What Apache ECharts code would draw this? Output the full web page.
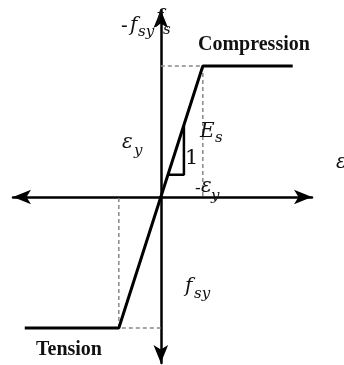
<!DOCTYPE html>
<html>
<head>
<meta charset="utf-8">
<script src="https://cdn.jsdelivr.net/npm/echarts@6/dist/echarts.min.js"></script>
<style>
  html, body { margin: 0; padding: 0; background: #fff; }
  #chart { width: 344px; height: 365px; }
</style>
</head>
<body>
<div id="chart"></div>
<script>
// strain in units of eps_y, stress in units of f_sy
const strain = [-3.24, -1, 1, 3.14];
const stress = [-1, -1, 1, 1];
const guideTopX = [0, 1, 1];
const guideTopY = [1, 1, 0];
const guideBotX = [0, -1, -1];
const guideBotY = [-1, -1, 0];
const triX = [0.17, 0.55, 0.55];
const triY = [0.17, 0.17, 0.55];

const pairs = (xs, ys) => xs.map((x, i) => [x, ys[i]]);

const chart = echarts.init(document.getElementById("chart"));

const mathFont = 'italic 20px "DejaVu Serif"';
const subFont = 'italic 15px "DejaVu Serif"';
const txt = (text, x, y, font) => ({
  type: "text",
  style: {
    text: text,
    x: x,
    y: y,
    font: font,
    fill: "#111",
    textAlign: "left",
    textVerticalAlign: "middle",
    align: "left",
    verticalAlign: "middle",
  },
  z: 100,
});

chart.setOption({
  animation: false,
  grid: { left: 13, right: 32, top: 10, bottom: 2 },
  xAxis: {
    type: "value",
    min: -3.52,
    max: 3.6,
    axisLine: {
      onZero: true,
      symbol: ["arrow", "arrow"],
      symbolSize: [11, 18],
      lineStyle: { color: "#000", width: 2.5 },
    },
    axisTick: { show: false },
    axisLabel: { show: false },
    splitLine: { show: false },
  },
  yAxis: {
    type: "value",
    min: -1.267,
    max: 1.427,
    axisLine: {
      onZero: true,
      symbol: ["arrow", "arrow"],
      symbolSize: [11, 18],
      lineStyle: { color: "#000", width: 2.5 },
    },
    axisTick: { show: false },
    axisLabel: { show: false },
    splitLine: { show: false },
  },
  series: [
    {
      type: "line",
      data: pairs(guideTopX, guideTopY),
      symbol: "none",
      lineStyle: { color: "#888", width: 1.5, type: [4, 3] },
    },
    {
      type: "line",
      data: pairs(guideBotX, guideBotY),
      symbol: "none",
      lineStyle: { color: "#888", width: 1.5, type: [4, 3] },
    },
    {
      type: "line",
      data: pairs(strain, stress),
      symbol: "none",
      lineStyle: { color: "#000", width: 3 },
      z: 5,
    },
    {
      type: "line",
      data: pairs(triX, triY),
      symbol: "none",
      lineStyle: { color: "#000", width: 2.5 },
      z: 5,
    },
  ],
  graphic: [
    txt("Compression", 198, 45, 'bold 20px "Liberation Serif"'),
    txt("Tension", 36, 350, 'bold 20px "Liberation Serif"'),
    txt("-", 121, 27, '20px "DejaVu Serif"'),
    txt("f", 130, 26, mathFont),
    txt("sy", 138, 32, subFont),
    txt("f", 156, 18, mathFont),
    txt("s", 163, 30, subFont),
    txt("\u03b5", 122, 143, mathFont),
    txt("y", 134, 151, subFont),
    txt("E", 200, 132, mathFont),
    txt("s", 215, 138, subFont),
    txt("1", 185, 159, '21px "DejaVu Serif"'),
    txt("-", 195, 189, '17px "DejaVu Serif"'),
    txt("\u03b5", 201, 187, mathFont),
    txt("y", 211, 196, subFont),
    txt("f", 185, 287, mathFont),
    txt("sy", 194, 294, subFont),
    txt("\u03b5", 336, 163, mathFont),
  ],
});
</script>
</body>
</html>
